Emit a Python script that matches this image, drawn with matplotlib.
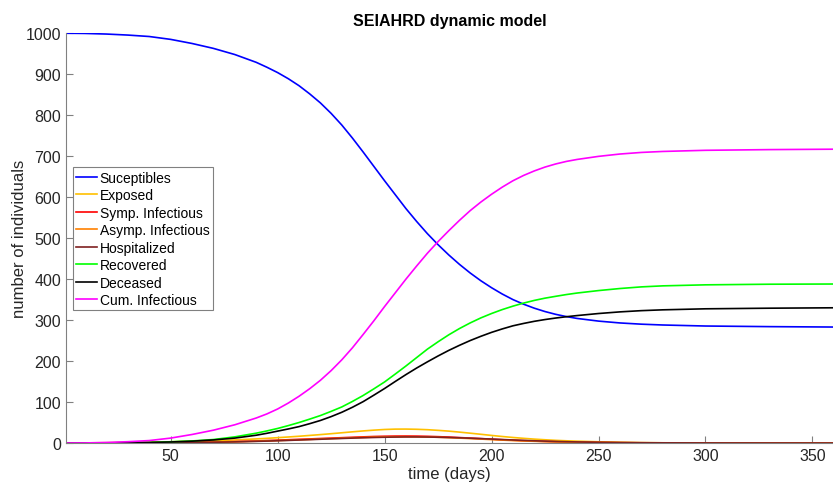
import numpy as np
import matplotlib
matplotlib.use('Agg')
import matplotlib.pyplot as plt

plt.rcParams['font.family'] = ['Liberation Sans', 'DejaVu Sans']

days = [1, 10, 20, 30, 40, 50, 60, 70, 80, 90,
        95, 100, 105, 110, 115, 120, 125, 130, 135, 140,
        145, 150, 155, 160, 165, 170, 175, 180, 185, 190,
        195, 200, 205, 210, 215, 220, 225, 230, 235, 240,
        250, 260, 270, 280, 300, 330, 360]

suceptibles = [1000, 999.5, 998, 995.5, 992, 985, 975, 963, 948, 929,
               917, 904, 889, 872, 852, 830, 804.5, 776, 744, 710,
               675, 640, 606, 572, 540.6, 511, 484, 459, 436, 415,
               396, 379, 363.6, 350, 338.7, 329, 320.8, 314, 308.5, 304,
               297.5, 293, 290, 288, 285.5, 284, 283]
exposed = [0, 0.3, 0.7, 1.3, 2, 3, 4.2, 5.7, 7.5, 10,
           11.4, 13, 14.7, 16.5, 18.5, 20.5, 22.7, 25, 27.3, 29.5,
           31.4, 33, 33.9, 34, 33.5, 32.5, 30.9, 29, 26.6, 24,
           21.3, 18.5, 15.9, 13.5, 11.4, 9.5, 7.9, 6.5, 5.4, 4.5,
           3, 1.8, 1, 0.5, 0.2, 0.05, 0]
symp_inf = [0, 0.05, 0.1, 0.3, 0.5, 1, 1.5, 2.4, 3.5, 5,
            6, 7, 8, 9, 10, 11, 12, 13, 14, 15,
            15.9, 16.5, 16.9, 17, 16.8, 16.3, 15.5, 14.5, 13.3, 12,
            10.7, 9.3, 8, 6.8, 5.7, 4.7, 3.8, 3.1, 2.5, 2,
            1.3, 0.8, 0.5, 0.3, 0.1, 0, 0]
asymp_inf = [0, 0.05, 0.1, 0.3, 0.5, 0.9, 1.4, 2.1, 3.1, 4.4,
             5.2, 6, 6.9, 7.9, 8.9, 9.8, 10.8, 11.8, 12.8, 13.6,
             14.4, 15, 15.3, 15.4, 15.2, 14.7, 14, 13, 12, 10.8,
             9.6, 8.3, 7.1, 6, 5.1, 4.2, 3.4, 2.8, 2.3, 1.8,
             1.1, 0.7, 0.4, 0.25, 0.1, 0, 0]
hospitalized = [0, 0.03, 0.08, 0.2, 0.4, 0.7, 1.1, 1.8, 2.8, 4,
                4.7, 5.5, 6.4, 7.3, 8.2, 9.2, 10.2, 11.1, 12, 12.8,
                13.5, 14.1, 14.5, 14.8, 14.8, 14.6, 14.1, 13.5, 12.7, 11.7,
                10.7, 9.6, 8.5, 7.4, 6.4, 5.4, 4.6, 3.8, 3.2, 2.6,
                1.7, 1.1, 0.7, 0.45, 0.2, 0.05, 0]
recovered = [0, 0.1, 0.3, 0.8, 1.5, 3, 5, 8.5, 15, 24,
             29.5, 35.5, 42.5, 50, 58.3, 67, 77.2, 88, 101.5, 116,
             132.2, 149, 168.3, 188, 208.5, 229, 247, 264, 279.3, 293,
             305.3, 316, 325.6, 334, 341.5, 348, 353.5, 358, 362.3, 366,
             372, 377, 381, 383.5, 386, 387.5, 388]
deceased = [0, 0.1, 0.3, 0.7, 1.3, 2.5, 4.5, 7.5, 12, 19,
            23.7, 29, 34.3, 40, 47.2, 55, 64.4, 75, 87.3, 101,
            116.8, 133, 150.2, 167, 183, 198, 212.4, 226, 238.4, 250,
            260.4, 270, 278.4, 286, 291.8, 297, 301.3, 305, 308.2, 311,
            316, 320, 323, 325, 327.5, 329, 330]
cum_inf = [0, 0.2, 1.3, 3.2, 6, 12, 20.8, 31.3, 44.5, 61,
           71, 83, 97.5, 114, 132.5, 153, 176.6, 203, 232.5, 265,
           298.3, 333, 366.5, 400, 432, 463, 491.5, 518, 543.3, 567,
           588, 607, 624.4, 640, 653, 664, 673.4, 681, 687.2, 692,
           699.5, 705.2, 709.1, 711.5, 714.3, 716, 717]

labels = ['Suceptibles', 'Exposed', 'Symp. Infectious', 'Asymp. Infectious',
          'Hospitalized', 'Recovered', 'Deceased', 'Cum. Infectious']
series = [suceptibles, exposed, symp_inf, asymp_inf, hospitalized,
          recovered, deceased, cum_inf]
colors = ['#0000ff', '#ffc000', '#ff0000', '#ff8000', '#7f2020',
          '#00ff00', '#000000', '#ff00ff']

fig = plt.figure(figsize=(8.33, 4.89), dpi=100)
ax = fig.add_axes([0.079, 0.092, 0.922, 0.838])

for vals, lab, col in zip(series, labels, colors):
    ax.plot(days, vals, color=col, lw=1.2, label=lab)

ax.set_xlim(1, 360)
ax.set_ylim(0, 1000)
ax.set_xticks(np.arange(50, 351, 50))
ax.set_yticks(np.arange(0, 1001, 100))

for s in ['top', 'right']:
    ax.spines[s].set_visible(False)
for s in ['left', 'bottom']:
    ax.spines[s].set_color('#808080')
    ax.spines[s].set_linewidth(0.8)
ax.tick_params(direction='in', length=5, width=0.8, color='#808080',
               labelcolor='#262626', labelsize=11.5)

ax.set_title('SEIAHRD dynamic model', fontsize=11.5, fontweight='bold', pad=6)
ax.set_xlabel('time (days)', fontsize=12, color='#262626', labelpad=2)
ax.set_ylabel('number of individuals', fontsize=12, color='#262626', labelpad=-1)

leg = ax.legend(loc='upper left', bbox_to_anchor=(0.009, 0.673), fontsize=10,
                fancybox=False, framealpha=1, edgecolor='#808080',
                handlelength=1.5, handletextpad=0.2, labelspacing=0.25,
                borderpad=0.25, borderaxespad=0)
leg.get_frame().set_linewidth(0.8)

fig.savefig('out.png', dpi=100)
